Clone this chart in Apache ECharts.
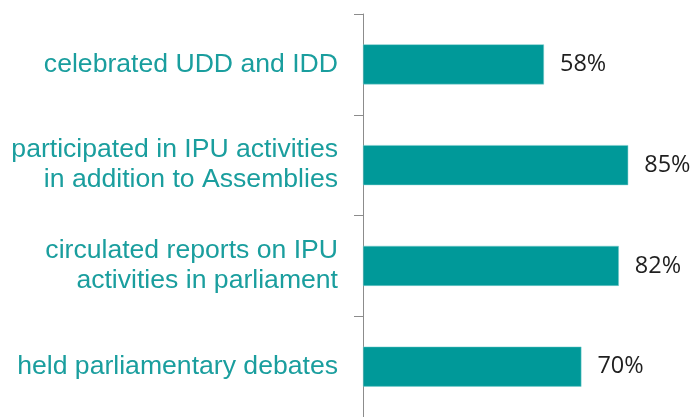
<!DOCTYPE html>
<html>
<head>
<meta charset="utf-8">
<script src="https://cdn.jsdelivr.net/npm/echarts@6/dist/echarts.min.js"></script>
<style>
  html, body { margin: 0; padding: 0; background: #fff; }
  #chart { width: 694px; height: 417px; }
</style>
</head>
<body>
<div id="chart"></div>
<script>
// categories top to bottom
const categories = [
  'celebrated UDD and IDD',
  'participated in IPU activities\nin addition to Assemblies',
  'circulated reports on IPU\nactivities in parliament',
  'held parliamentary debates'
];
const values = [58, 85, 82, 70];

const chart = echarts.init(document.getElementById('chart'));

chart.setOption({
  backgroundColor: '#fff',
  animation: false,
  grid: { left: 363, right: 19, top: 14, bottom: -6 },
  xAxis: {
    type: 'value',
    min: 0,
    max: 100,
    show: false
  },
  yAxis: {
    type: 'category',
    data: categories,
    inverse: true,
    axisLine: { show: true, lineStyle: { color: '#8c8c8c', width: 1 } },
    axisTick: { show: true, length: 9, lineStyle: { color: '#8c8c8c' } },
    axisLabel: {
      margin: 25,
      color: '#1a9e9e',
      fontFamily: 'Liberation Sans',
      fontSize: 26.6,
      lineHeight: 30,
      align: 'right'
    }
  },
  series: [{
    type: 'bar',
    data: values,
    barWidth: 40,
    itemStyle: { color: '#009999', borderColor: '#7fcfcf', borderWidth: 0.5 },
    label: {
      show: true,
      position: 'right',
      distance: 16,
      formatter: '{c}%',
      color: '#1f1f1f',
      fontFamily: 'Open Sans',
      fontSize: 23.5
    }
  }]
});
</script>
</body>
</html>
